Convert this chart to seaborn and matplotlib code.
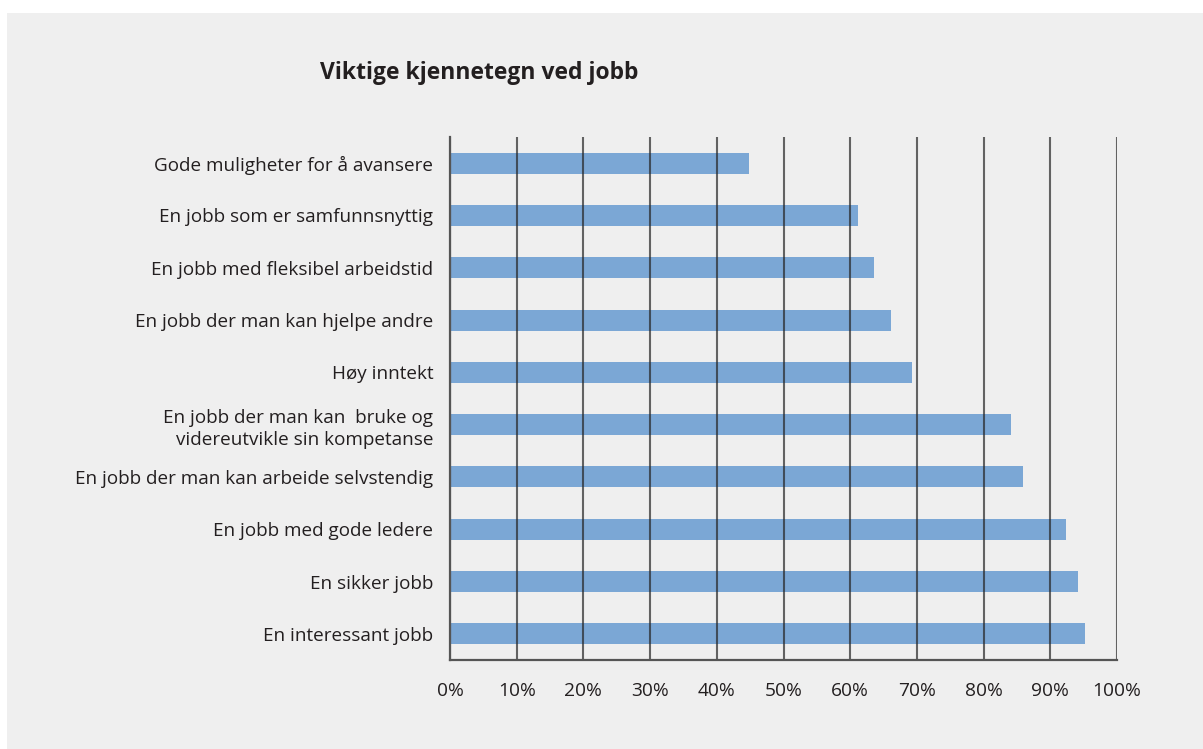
import matplotlib
matplotlib.use("Agg")
import matplotlib.pyplot as plt
from matplotlib.patches import Rectangle
from matplotlib.ticker import MultipleLocator, PercentFormatter
import pandas as pd
import seaborn as sns

categories = [
    "Gode muligheter for å avansere",
    "En jobb som er samfunnsnyttig",
    "En jobb med fleksibel arbeidstid",
    "En jobb der man kan hjelpe andre",
    "Høy inntekt",
    "En jobb der man kan  bruke og\nvidereutvikle sin kompetanse",
    "En jobb der man kan arbeide selvstendig",
    "En jobb med gode ledere",
    "En sikker jobb",
    "En interessant jobb",
]
values = [44.8, 61.2, 63.6, 66.1, 69.3, 84.1, 85.9, 92.4, 94.2, 95.2]

df = pd.DataFrame({"kjennetegn": categories, "andel": values})

sns.set_theme(style="white")
plt.rcParams["font.family"] = ["Open Sans", "DejaVu Sans"]

panel = "#efefef"
text_col = "#231f20"

fig = plt.figure(figsize=(12.03, 7.49), dpi=100, facecolor="white")
fig.patches.append(Rectangle((7 / 1203, 0), 1, 1 - 13 / 749, transform=fig.transFigure,
                             facecolor=panel, edgecolor="none", zorder=-10))

ax = fig.add_axes([450 / 1203, 1 - 660 / 749, 667 / 1203, 523 / 749])
ax.set_facecolor(panel)

sns.barplot(data=df, x="andel", y="kjennetegn", orient="h", color="#7ba7d5",
            saturation=1, width=0.4, linewidth=0, ax=ax, zorder=1)

ax.set_xlim(0, 100)
ax.xaxis.set_major_locator(MultipleLocator(10))
ax.xaxis.set_major_formatter(PercentFormatter(decimals=0))
ax.grid(False)

# vertical gridlines at every major tick, drawn on top of the bars
for tick in ax.get_xticks()[1:]:
    ax.axvline(tick, color="#262626", linewidth=1.5, alpha=0.7, zorder=5)

for side in ("top", "right"):
    ax.spines[side].set_visible(False)
for side in ("left", "bottom"):
    ax.spines[side].set_color("#555555")
    ax.spines[side].set_linewidth(1.6)
    ax.spines[side].set_zorder(6)

ax.set_xlabel("")
ax.set_ylabel("")
ax.tick_params(axis="y", length=0, pad=12, labelsize=13.6, labelcolor=text_col)
ax.tick_params(axis="x", length=0, pad=16, labelsize=13.8, labelcolor=text_col)
for lbl in ax.get_yticklabels():
    lbl.set_linespacing(1.3)

fig.text(320 / 1203, 1 - 73 / 749, "Viktige kjennetegn ved jobb", fontsize=16.5,
         fontweight="bold", color=text_col, ha="left", va="center")

fig.savefig("out.png", dpi=100, facecolor="white")
